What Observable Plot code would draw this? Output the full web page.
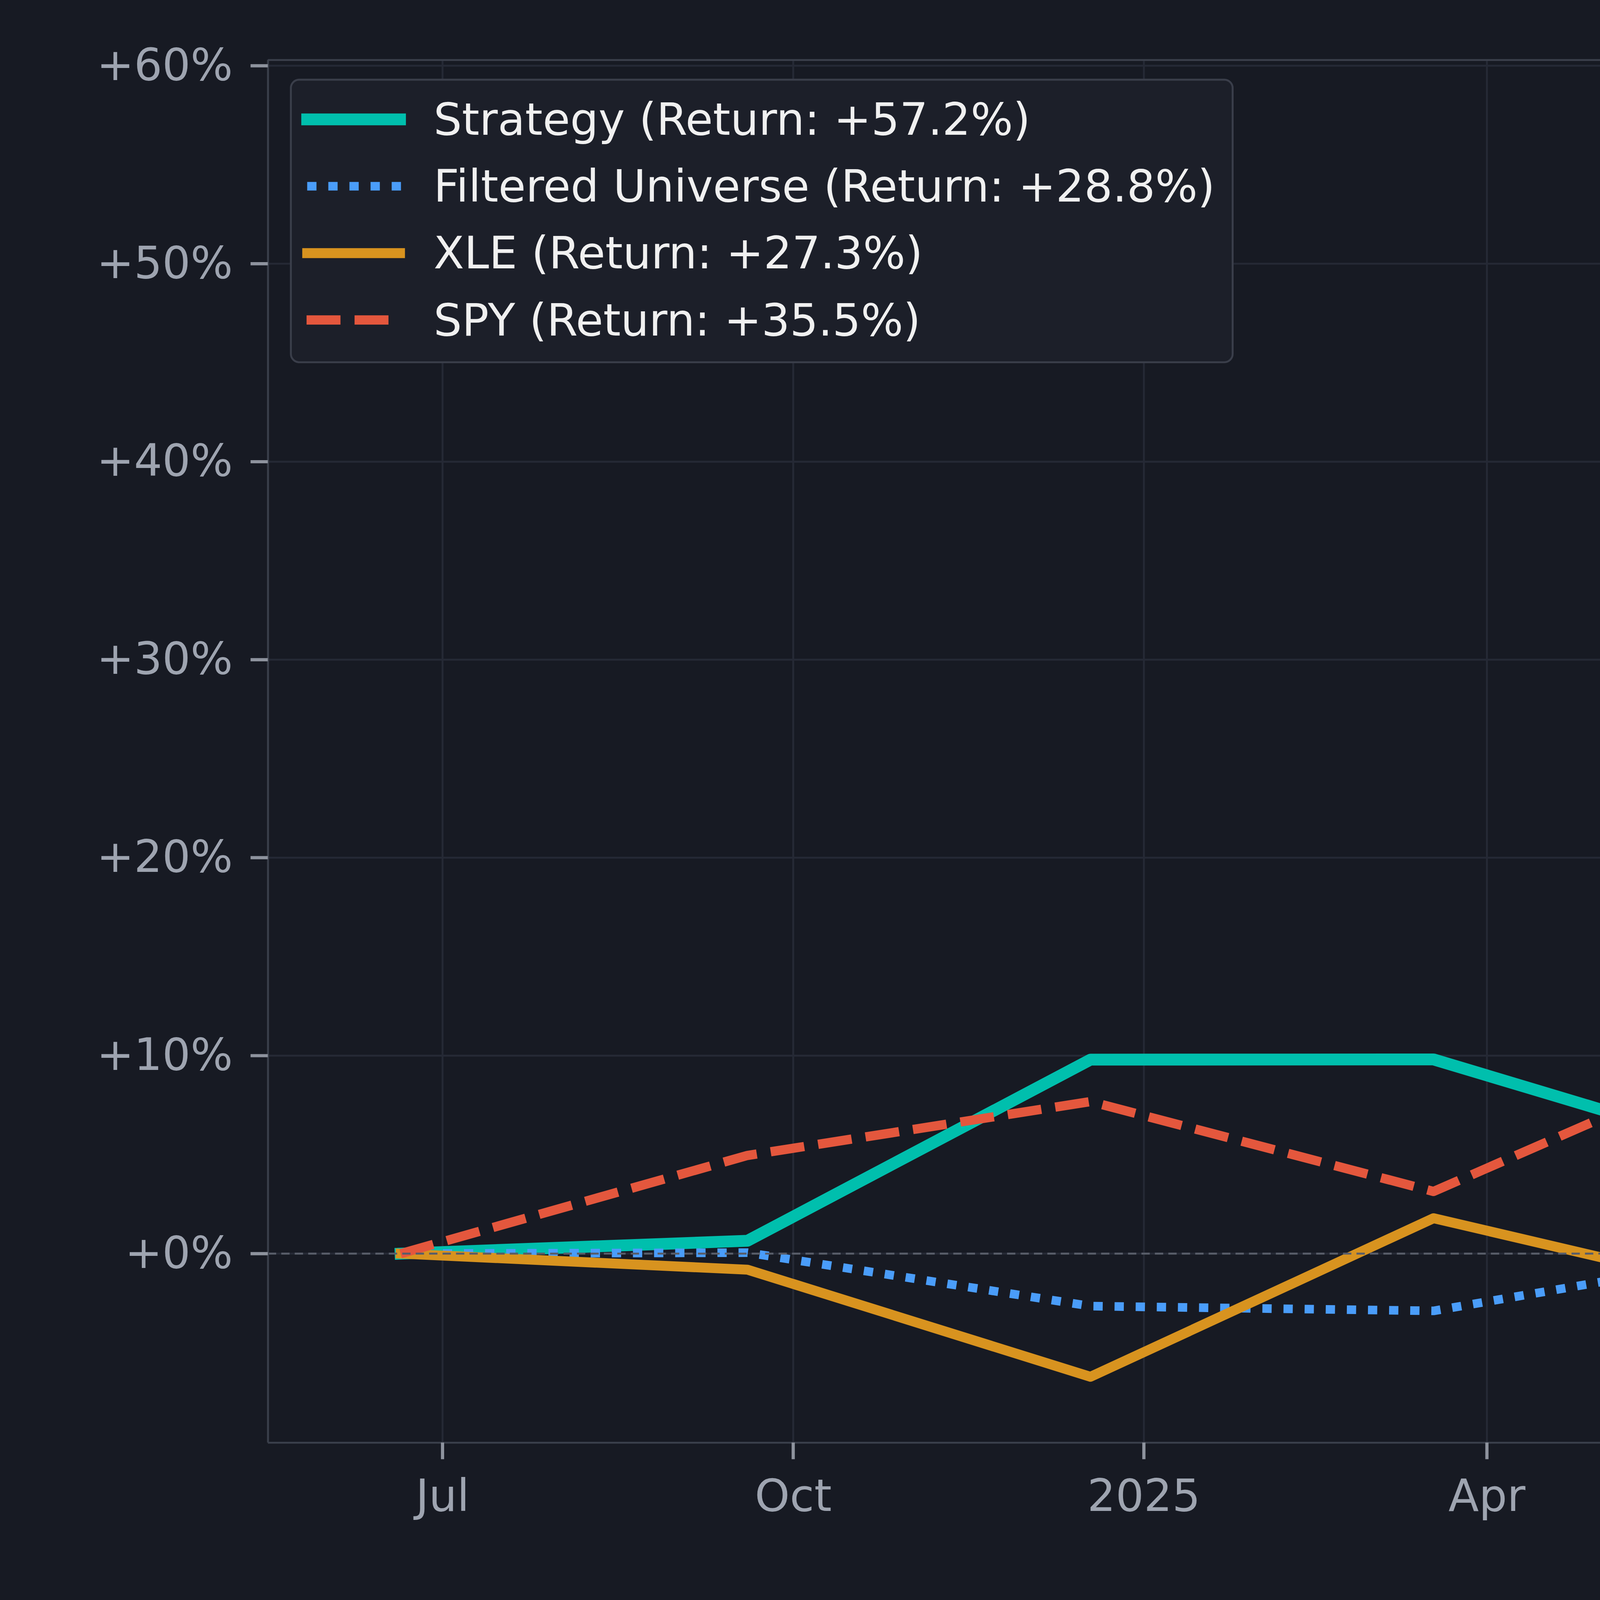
<!DOCTYPE html>
<html>
<head>
<meta charset="utf-8">
<script src="https://cdn.jsdelivr.net/npm/d3@7"></script>
<script src="https://cdn.jsdelivr.net/npm/@observablehq/plot@0.6"></script>
<style>
  html, body { margin: 0; padding: 0; background: #171a23; }
  #chart svg { display: block; }
</style>
</head>
<body>
<div id="chart"></div>
<script>
// ---- data ----
const dates = ["2024-06-20", "2024-09-19", "2024-12-18", "2025-03-18", "2025-06-16"];
const strategy = [0, 0.65, 9.80, 9.81, 4.62];
const filtered = [0, 0.05, -2.65, -2.89, 0.10];
const xle = [0, -0.81, -6.22, 1.79, -2.26];
const spy = [0, 4.96, 7.68, 3.14, 10.71];

const seriesNames = ["Strategy", "Filtered Universe", "XLE", "SPY"];
const seriesReturns = ["+57.2%", "+28.8%", "+27.3%", "+35.5%"];

const yTicks = [0, 10, 20, 30, 40, 50, 60];
const xTickDates = ["2024-07-01", "2024-10-01", "2025-01-01", "2025-04-01"];
const xTickLabels = ["Jul", "Oct", "2025", "Apr"];

const xDomain = [new Date("2024-05-16T05:00:00Z"), new Date("2025-04-30T17:00:00Z")];
const yDomain = [-9.55, 60.29];

// ---- build tables ----
const toRows = (vals) => vals.map((v, i) => ({date: new Date(dates[i] + "T00:00:00Z"), value: v}));
const xTicks = xTickDates.map(d => new Date(d + "T00:00:00Z"));
const labelOf = new Map(xTicks.map((d, i) => [+d, xTickLabels[i]]));

const colors = {
  strategy: "#00bfad",
  filtered: "#4a9dfa",
  xle: "#d8931f",
  spy: "#e4573d"
};
const styles = [
  {stroke: colors.strategy, strokeWidth: 37, strokeLinecap: "square", strokeLinejoin: "round"},
  {stroke: colors.filtered, strokeWidth: 27, strokeDasharray: "29 37", strokeLinecap: "butt", strokeLinejoin: "round"},
  {stroke: colors.xle, strokeWidth: 31, strokeLinecap: "square", strokeLinejoin: "round"},
  {stroke: colors.spy, strokeWidth: 29, strokeDasharray: "106 44", strokeLinecap: "butt", strokeLinejoin: "round"}
];
const seriesData = [toRows(strategy), toRows(filtered), toRows(xle), toRows(spy)];

const spine = "#3a3f4b";
const grid = "#252935";

const svg = Plot.plot({
  width: 5000,
  height: 5000,
  marginLeft: 837,
  marginRight: 0,
  marginTop: 187,
  marginBottom: 492,
  style: {background: "#171a23", fontFamily: "DejaVu Sans", fontSize: "138px", color: "#9aa1ad"},
  x: {type: "utc", domain: xDomain, axis: null},
  y: {domain: yDomain, axis: null},
  marks: [
    Plot.gridY(yTicks, {stroke: grid, strokeOpacity: 1, strokeWidth: 6}),
    Plot.gridX(xTicks, {stroke: grid, strokeOpacity: 1, strokeWidth: 6}),
    ...seriesData.map((rows, i) => Plot.line(rows, {x: "date", y: "value", clip: true, ...styles[i]})),
    Plot.ruleY([0], {stroke: "#585d69", strokeWidth: 6, strokeDasharray: "26 16"}),
    Plot.ruleX([xDomain[0]], {stroke: spine, strokeWidth: 6}),
    Plot.ruleY([yDomain[0]], {stroke: spine, strokeWidth: 6}),
    Plot.ruleY([yDomain[1]], {stroke: spine, strokeWidth: 6}),
    Plot.axisY(yTicks, {
      tickFormat: d => "+" + d + "%",
      tickSize: 54, tickPadding: 56,
      stroke: "#8e939e", strokeWidth: 10,
      fill: "#9ea4b0", fontSize: 139, label: null
    }),
    Plot.axisX(xTicks, {
      tickFormat: d => labelOf.get(+d),
      tickSize: 52, tickPadding: 62,
      stroke: "#8e939e", strokeWidth: 10,
      fill: "#9ea4b0", fontSize: 139, label: null
    })
  ]
});

// ---- legend ----
const g = d3.select(svg).append("g").attr("class", "legend").attr("text-anchor", "start");
g.append("rect")
  .attr("x", 909).attr("y", 249).attr("width", 2943).attr("height", 883)
  .attr("rx", 26).attr("ry", 26)
  .attr("fill", "#1c1f29").attr("stroke", "#3a3e4a").attr("stroke-width", 6);
const rowY = [373, 582, 791, 1000];
const sampleX = [[960, 1250], [960, 1260], [960, 1250], [958, 1216]];
seriesNames.forEach((name, i) => {
  const s = styles[i];
  g.append("line")
    .attr("x1", sampleX[i][0]).attr("x2", sampleX[i][1])
    .attr("y1", rowY[i]).attr("y2", rowY[i])
    .attr("stroke", s.stroke).attr("stroke-width", s.strokeWidth)
    .attr("stroke-linecap", s.strokeLinecap)
    .attr("stroke-dasharray", s.strokeDasharray || null);
  g.append("text")
    .attr("x", 1355).attr("y", rowY[i] + 48)
    .attr("text-anchor", "start")
    .attr("fill", "#f0f0f0")
    .attr("font-family", "DejaVu Sans").attr("font-size", 139.5)
    .text(`${name} (Return: ${seriesReturns[i]})`);
});

document.getElementById("chart").appendChild(svg);
</script>
</body>
</html>
